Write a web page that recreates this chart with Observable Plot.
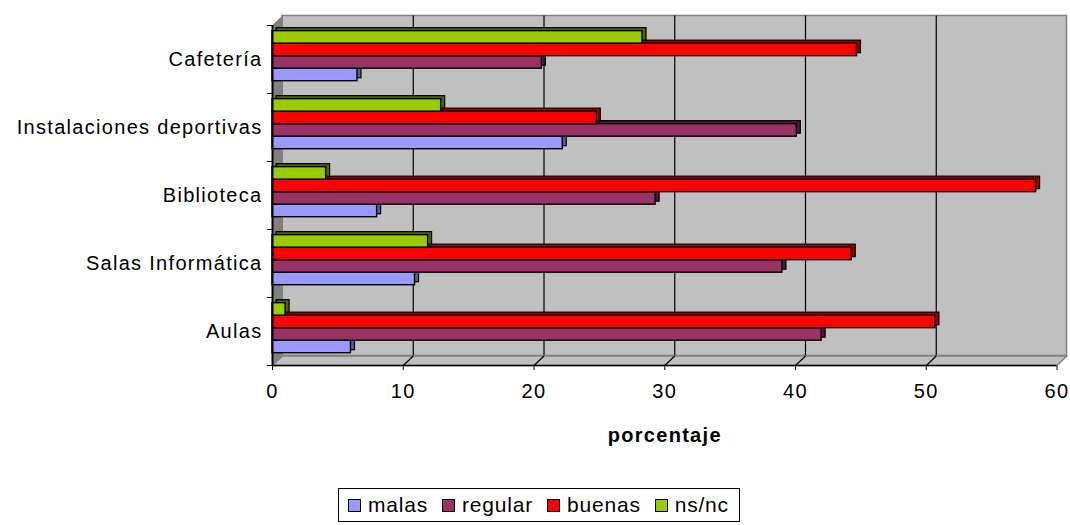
<!DOCTYPE html>
<html><head><meta charset="utf-8">
<script src="https://cdn.jsdelivr.net/npm/d3@7"></script>
<script src="https://cdn.jsdelivr.net/npm/@observablehq/plot@0.6"></script>
<style>
body{margin:0;background:#fff;font-family:"Liberation Sans",Arial,sans-serif;}
#wrap{position:relative;width:1070px;height:525px;overflow:hidden;}
#chart svg text{letter-spacing:1.3px;}
#chart g[aria-label="titulo"] text{letter-spacing:1.9px;}
#legend{position:absolute;left:338px;top:488px;width:402px;height:34px;border:1px solid #000;box-sizing:border-box;display:flex;align-items:center;padding-left:9px;font-size:21px;letter-spacing:0.8px;color:#000}
.item{display:flex;align-items:center;margin-right:14px}
.sw{width:11px;height:11px;border:1px solid #000;margin-right:7px}
</style></head>
<body><div id="wrap"><div id="chart"></div><div id="legend"></div></div>
<script>
// ---- data ----
const categories = ["Aulas", "Salas Informática", "Biblioteca", "Instalaciones deportivas", "Cafetería"];
const series = ["malas", "regular", "buenas", "ns/nc"];
const malas   = [6.0, 10.9, 8.0, 22.2, 6.5];
const regular = [42.0, 39.0, 29.3, 40.1, 20.6];
const buenas  = [50.7, 44.3, 58.4, 24.8, 44.7];
const nsnc    = [1.0, 11.9, 4.1, 12.9, 28.3];
const xTicks  = [0, 10, 20, 30, 40, 50, 60];

const colors = ["#9999ff", "#993366", "#ff0000", "#99cc00"];
const sideColors = ["#5c5c99", "#4d1a33", "#990000", "#4d6600"];

const values = [malas, regular, buenas, nsnc];
const rows = [];
categories.forEach((c, k) => series.forEach((s, j) => rows.push({category: c, k, serie: s, j, value: values[j][k]})));

// 3D depth (in data units) and group layout within each category band
const DX = 0.765, DY = 0.14;
const G0 = 0.181, P = 0.184;
const y1 = d => d.k + G0 + d.j * P;
const y2 = d => d.k + G0 + (d.j + 1) * P;
const xMax = xTicks[xTicks.length - 1];
const nCat = categories.length;

const wall = [[0, 0], [DX, DY], [DX, nCat + DY], [0, nCat], [0, 0]];
const floor = [[0, 0], [xMax, 0], [xMax + DX, DY], [DX, DY], [0, 0]];

const chart = Plot.plot({
  width: 1070,
  height: 460,
  marginLeft: 272,
  marginRight: 13.5,
  marginTop: 25,
  marginBottom: 95,
  style: {fontFamily: "'Liberation Sans', Arial, sans-serif", fontSize: "20px", background: "white", overflow: "visible", color: "black"},
  x: {domain: [0, xMax], ticks: xTicks.length - 1, tickSize: 5, tickPadding: 13, label: null},
  y: {domain: [0, nCat], ticks: nCat, tickFormat: () => "", tickSize: 5, label: null},
  marks: [
    // back wall
    Plot.rect([0], {x1: () => DX, x2: () => xMax + DX, y1: () => DY, y2: () => nCat + DY, fill: "#c0c0c0", stroke: "#808080", strokeWidth: 1.5}),
    Plot.ruleX(xTicks.slice(1, -1), {x: d => d + DX, y1: () => DY, y2: () => nCat + DY, stroke: "black", strokeWidth: 1.2}),
    // side wall
    Plot.line(wall, {x: d => d[0], y: d => d[1], fill: "#808080", stroke: "#808080", strokeWidth: 1}),
    // floor
    Plot.line(floor, {x: d => d[0], y: d => d[1], fill: "#c0c0c0", stroke: "#808080", strokeWidth: 1.5}),
    Plot.link(xTicks.slice(1, -1), {x1: d => d, y1: () => 0, x2: d => d + DX, y2: () => DY, stroke: "black", strokeWidth: 1.2}),
    // bars: depth faces then front faces
    Plot.rect(rows, {x1: () => 0, x2: "value", y1, y2, fill: d => sideColors[d.j], stroke: "black", strokeWidth: 1.2, dx: 4, dy: -3}),
    Plot.rect(rows, {x1: () => 0, x2: "value", y1, y2, fill: d => colors[d.j], stroke: "black", strokeWidth: 1.4}),
    // axes lines
    Plot.ruleX([0], {stroke: "black", strokeWidth: 2}),
    Plot.ruleY([0], {stroke: "black", strokeWidth: 1.5}),
    // category labels
    Plot.text(categories, {x: () => 0, y: (d, i) => i + 0.5, dx: -10, textAnchor: "end", fill: "black", fontSize: 20}),
    // axis title
    Plot.text(["porcentaje"], {frameAnchor: "bottom", dy: 76, fontWeight: "bold", fontSize: 20, fill: "black", ariaLabel: "titulo"})
  ]
});
document.getElementById("chart").appendChild(chart);

// legend
const legend = document.getElementById("legend");
series.forEach((s, j) => {
  const item = document.createElement("div");
  item.className = "item";
  const sw = document.createElement("span");
  sw.className = "sw";
  sw.style.background = colors[j];
  const t = document.createElement("span");
  t.textContent = s;
  item.appendChild(sw); item.appendChild(t);
  legend.appendChild(item);
});
</script>
</body></html>
